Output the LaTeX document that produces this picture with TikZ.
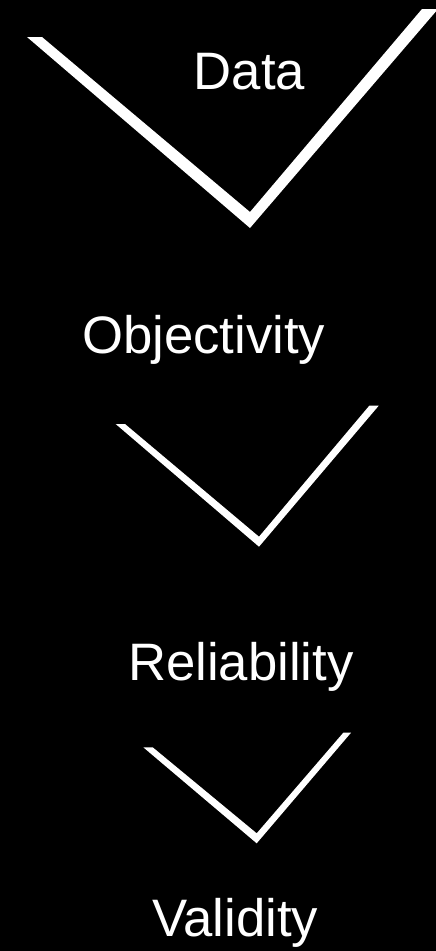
\documentclass[tikz,border=0pt]{standalone}
\usepackage{fontspec}
\setmainfont{Liberation Sans}
\begin{document}
\begin{tikzpicture}[x=1pt,y=-1pt,
  lbl/.style={text=white,inner sep=0pt,anchor=base,font=\fontsize{52.7}{60}\selectfont},
  chev/.style={fill=white,draw=none}]
\fill[black] (0,0) rectangle (436,951);
\useasboundingbox (0,0) rectangle (436,951);
% chevrons
\begin{scope}
\clip (0,0) rectangle (436,951);
\path[chev] (27,37) -- (42,37) -- (250,212) -- (422,9) -- (438,9) -- (250,228) -- cycle;
\end{scope}
\path[chev] (115.7,424) -- (125,424) -- (259,536.7) -- (369.3,405.7) -- (378.7,405.7) -- (259,546.7) -- cycle;
\path[chev] (143.3,747.3) -- (152.7,747.3) -- (256.7,833.3) -- (343.3,732.7) -- (351,732.7) -- (256.7,843.3) -- cycle;
% labels
\node[lbl] (data) at (249.5,89.3) {Data};
\node[lbl] (obj) at (203.8,353.3) {Objectivity};
\node[lbl] (rel) at (240.8,680) {Reliability};
\node[lbl] (val) at (235.3,936) {Validity};
\end{tikzpicture}
\end{document}
